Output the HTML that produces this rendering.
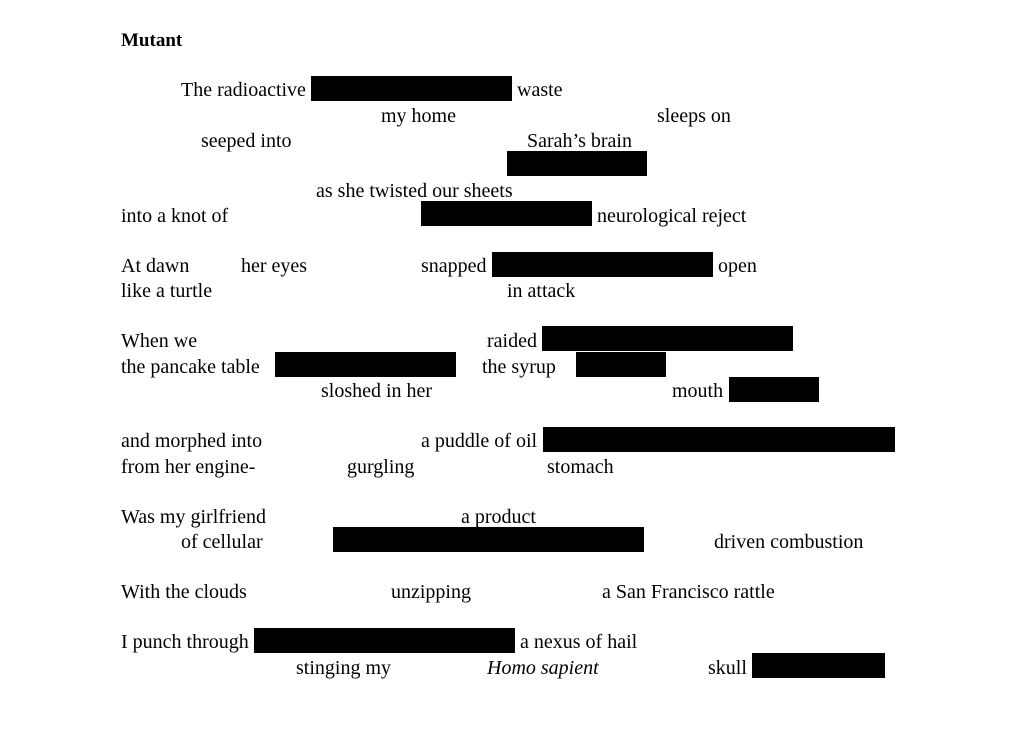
<!DOCTYPE html>
<html><head><meta charset="utf-8"><style>
body{margin:0;width:1024px;height:748px;background:#fff;position:relative;overflow:hidden;font-family:"Liberation Serif",serif;font-size:20px;color:#000}
.t{position:absolute;line-height:22px;white-space:nowrap;margin-top:1px}
.b{position:absolute;background:#000}
</style></head><body>
<div class="t" style="left:121px;top:29px;font-weight:bold;font-size:19px">Mutant</div>

<div class="t" style="left:181px;top:78px">The radioactive</div>
<div class="b" style="left:311px;top:76px;width:201px;height:25px"></div>
<div class="t" style="left:517px;top:78px">waste</div>

<div class="t" style="left:381px;top:104px">my home</div>
<div class="t" style="left:657px;top:104px">sleeps on</div>

<div class="t" style="left:201px;top:129px">seeped into</div>
<div class="t" style="left:527px;top:129px">Sarah’s brain</div>
<div class="b" style="left:507px;top:151px;width:140px;height:25px"></div>

<div class="t" style="left:316px;top:179px">as she twisted our sheets</div>
<div class="t" style="left:121px;top:204px">into a knot of</div>
<div class="b" style="left:421px;top:201px;width:171px;height:25px"></div>
<div class="t" style="left:597px;top:204px">neurological reject</div>

<div class="t" style="left:121px;top:254px">At dawn</div>
<div class="t" style="left:241px;top:254px">her eyes</div>
<div class="t" style="left:421px;top:254px">snapped</div>
<div class="b" style="left:492px;top:252px;width:221px;height:25px"></div>
<div class="t" style="left:718px;top:254px">open</div>
<div class="t" style="left:121px;top:279px">like a turtle</div>
<div class="t" style="left:507px;top:279px">in attack</div>

<div class="t" style="left:121px;top:329px">When we</div>
<div class="t" style="left:487px;top:329px">raided</div>
<div class="b" style="left:542px;top:326px;width:251px;height:25px"></div>
<div class="t" style="left:121px;top:355px">the pancake table</div>
<div class="b" style="left:275px;top:352px;width:181px;height:25px"></div>
<div class="t" style="left:482px;top:355px">the syrup</div>
<div class="b" style="left:576px;top:352px;width:90px;height:25px"></div>
<div class="t" style="left:321px;top:379px">sloshed in her</div>
<div class="t" style="left:672px;top:379px">mouth</div>
<div class="b" style="left:729px;top:377px;width:90px;height:25px"></div>

<div class="t" style="left:121px;top:429px">and morphed into</div>
<div class="t" style="left:421px;top:429px">a puddle of oil</div>
<div class="b" style="left:543px;top:427px;width:352px;height:25px"></div>
<div class="t" style="left:121px;top:455px">from her engine-</div>
<div class="t" style="left:347px;top:455px">gurgling</div>
<div class="t" style="left:547px;top:455px">stomach</div>

<div class="t" style="left:121px;top:505px">Was my girlfriend</div>
<div class="t" style="left:461px;top:505px">a product</div>
<div class="t" style="left:181px;top:530px">of cellular</div>
<div class="b" style="left:333px;top:527px;width:311px;height:25px"></div>
<div class="t" style="left:714px;top:530px">driven combustion</div>

<div class="t" style="left:121px;top:580px">With the clouds</div>
<div class="t" style="left:391px;top:580px">unzipping</div>
<div class="t" style="left:602px;top:580px">a San Francisco rattle</div>

<div class="t" style="left:121px;top:630px">I punch through</div>
<div class="b" style="left:254px;top:628px;width:261px;height:25px"></div>
<div class="t" style="left:520px;top:630px">a nexus of hail</div>
<div class="t" style="left:296px;top:656px">stinging my</div>
<div class="t" style="left:487px;top:656px;font-style:italic">Homo sapient</div>
<div class="t" style="left:708px;top:656px">skull</div>
<div class="b" style="left:752px;top:653px;width:133px;height:25px"></div>
</body></html>
